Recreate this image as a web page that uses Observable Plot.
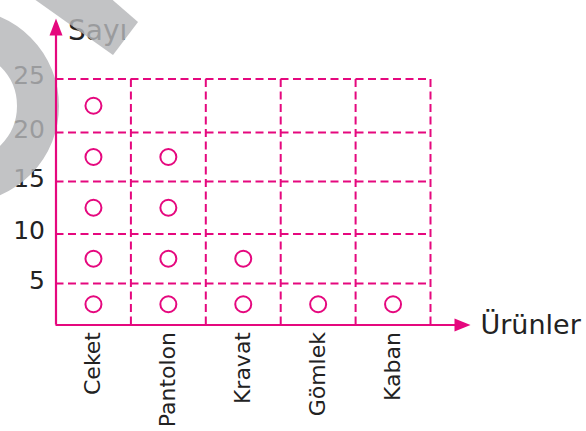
<!DOCTYPE html>
<html>
<head>
<meta charset="utf-8">
<script src="https://cdn.jsdelivr.net/npm/d3@7"></script>
<script src="https://cdn.jsdelivr.net/npm/@observablehq/plot@0.6"></script>
<style>
  html, body { margin: 0; padding: 0; background: #fff; }
  #chart { width: 586px; height: 431px; overflow: hidden; position: relative; }
</style>
</head>
<body>
<div id="chart"></div>
<script>
// ---- data ----
const categories = ["Ceket", "Pantolon", "Kravat", "Gömlek", "Kaban"];
const values = [25, 20, 10, 5, 5];       // Sayı (each circle = 5)
const unit = 5;
const yTicks = [5, 10, 15, 20, 25];
const xTitle = "Ürünler";
const yTitle = "Sayı";

// ---- derived ----
const circles = [];
categories.forEach((c, i) => {
  for (let k = 0; k < values[i] / unit; k++) circles.push({x: i + 0.5, y: k * unit + unit / 2, c});
});
const colX = d3.range(1, categories.length + 1);
const labels = categories.map((c, i) => ({x: i + 0.5, c}));

const pink = "#e5087e";
const xMax = categories.length;
const xTip = xMax + 0.534;
const yTip = 30.66;

const upTri = {draw(ctx) { ctx.moveTo(0, 0); ctx.lineTo(6.5, 17); ctx.lineTo(-6.5, 17); ctx.closePath(); }};
const rightTri = {draw(ctx) { ctx.moveTo(0, 0); ctx.lineTo(-16, -6.5); ctx.lineTo(-16, 6.5); ctx.closePath(); }};

const common = {
  width: 586,
  height: 431,
  marginLeft: 55.5, marginRight: 156, marginTop: 78.5, marginBottom: 106.5,
  x: {type: "linear", domain: [0, xMax], range: [55.5, 430], axis: null},
  y: {type: "linear", domain: [0, 5, 10, 15, 20, 25], range: [324.5, 283, 233.5, 181, 132, 78.5], axis: null}
};

const chart = Plot.plot({
  ...common,
  style: {fontFamily: "'DejaVu Sans', sans-serif", background: "white"},
  marks: [
    Plot.ruleY(yTicks, {x1: 0, x2: xMax, stroke: pink, strokeWidth: 2, strokeDasharray: "8,4.5"}),
    Plot.ruleX(colX, {y1: 0, y2: 25, stroke: pink, strokeWidth: 2, strokeDasharray: "8,4.5"}),
    Plot.dot(circles, {x: "x", y: "y", r: 8, stroke: pink, strokeWidth: 2, fill: "white"}),
    Plot.axisY({ticks: yTicks, tickSize: 0, tickPadding: 11, fontSize: 25, dy: -3, label: null, fill: "#222"}),
    Plot.text(labels, {x: "x", y: 0, text: "c", rotate: -90, textAnchor: "end", dy: 7, fontSize: 22, fill: "#222"}),
    Plot.text([xTitle], {x: xTip, y: 0, text: d => d, textAnchor: "start", dx: 10, fontSize: 27, fill: "#222"}),
    Plot.text([yTitle], {x: 0, y: 29.5, text: d => d, textAnchor: "start", dx: 12, fontSize: 28, fill: "#222"})
  ]
});
const svg = d3.select(chart);
// scanned-page watermark overlay (decoration, not data)
const wm = svg.append("g").attr("opacity", 0.82).attr("fill", "#b5b6b9");
wm.append("circle").attr("cx", -38).attr("cy", 106).attr("r", 76)
  .attr("fill", "none").attr("stroke", "#b5b6b9").attr("stroke-width", 42);
wm.append("polygon").attr("points", "20,-11 100,-11 138,22 113,55");
document.getElementById("chart").append(chart);

// axes drawn on top, through the library's scales
const axes = Plot.plot({
  ...common,
  style: {background: "transparent", position: "absolute", left: 0, top: 0},
  marks: [
    Plot.ruleX([0], {y1: 0, y2: yTip - 1, stroke: pink, strokeWidth: 2.2}),
    Plot.ruleY([0], {x1: 0, x2: xTip - 0.1, stroke: pink, strokeWidth: 2.2}),
    Plot.dot([{x: 0, y: yTip}], {x: "x", y: "y", symbol: upTri, fill: pink, stroke: "none", r: 5}),
    Plot.dot([{x: xTip, y: 0}], {x: "x", y: "y", symbol: rightTri, fill: pink, stroke: "none", r: 5})
  ]
});
document.getElementById("chart").append(axes);
</script>
</body>
</html>
